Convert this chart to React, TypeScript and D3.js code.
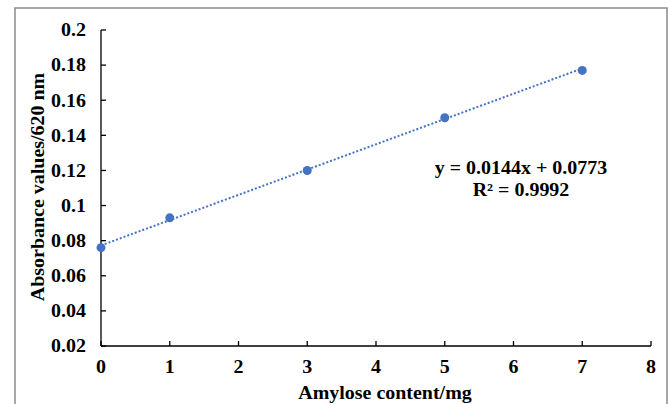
import React from "react";
import * as d3 from "d3";

const xValues = [0, 1, 3, 5, 7];
const yValues = [0.076, 0.093, 0.12, 0.15, 0.177];
const xTicks = [0, 1, 2, 3, 4, 5, 6, 7, 8];
const yTicks = [0.02, 0.04, 0.06, 0.08, 0.1, 0.12, 0.14, 0.16, 0.18, 0.2];
const slope = 0.0144;
const intercept = 0.0773;
const eqLine1 = "y = 0.0144x + 0.0773";
const eqLine2 = "R² = 0.9992";
const xTitle = "Amylose content/mg";
const yTitle = "Absorbance values/620 nm";

const W = 669;
const H = 404;
const left = 101;
const right = 651;
const top = 30;
const bottom = 346;
const font = "'Liberation Serif', 'Times New Roman', serif";
const blue = "#4472C4";
const SX = 1.11;

function T({
  x,
  y,
  anchor,
  rotate = 0,
  size = 18,
  children,
}: {
  x: number;
  y: number;
  anchor: "start" | "middle" | "end";
  rotate?: number;
  size?: number;
  children: React.ReactNode;
}) {
  return (
    <text
      transform={`translate(${x},${y}) rotate(${rotate}) scale(${SX},1)`}
      dy="0.35em"
      textAnchor={anchor}
      fontFamily={font}
      fontWeight="bold"
      fontSize={size}
      fill="#000"
    >
      {children}
    </text>
  );
}

export default function App() {
  const x = d3.scaleLinear().domain([0, 8]).range([left, right]);
  const y = d3.scaleLinear().domain([0.02, 0.2]).range([bottom, top]);
  const fmt = (v: number) => String(+v.toFixed(2));
  const trend = d3
    .line<number>()
    .x((d) => x(d))
    .y((d) => y(slope * d + intercept));

  return (
    <svg
      width={W}
      height={H}
      style={{ position: "absolute", left: 0, top: 0, background: "#fff" }}
    >
      <rect x={15} y={8} width={652} height={420} fill="#fff" stroke="#8a8a8a" strokeWidth={1.5} />
      <line x1={left} x2={left} y1={top} y2={bottom} stroke="#000" strokeWidth={1.3} />
      <line x1={left} x2={right} y1={bottom} y2={bottom} stroke="#000" strokeWidth={1.3} />
      {yTicks.map((t) => (
        <g key={"y" + t}>
          <line x1={left} x2={left + 5} y1={y(t)} y2={y(t)} stroke="#000" strokeWidth={1.3} />
          <T x={86} y={y(t)} anchor="end">
            {fmt(t)}
          </T>
        </g>
      ))}
      {xTicks.map((t) => (
        <g key={"x" + t}>
          <line x1={x(t)} x2={x(t)} y1={bottom} y2={bottom - 5} stroke="#000" strokeWidth={1.3} />
          <T x={x(t)} y={367} anchor="middle">
            {t}
          </T>
        </g>
      ))}
      <path
        d={trend([0, 7]) || ""}
        fill="none"
        stroke={blue}
        strokeWidth={2}
        strokeDasharray="2,2"
      />
      {xValues.map((v, i) => (
        <circle key={i} cx={x(v)} cy={y(yValues[i])} r={4.5} fill={blue} />
      ))}
      <T x={521} y={168} anchor="middle">
        {eqLine1}
      </T>
      <T x={521} y={190} anchor="middle">
        {eqLine2}
      </T>
      <T x={385} y={393} anchor="middle">
        {xTitle}
      </T>
      <T x={38} y={187} anchor="middle" rotate={-90}>
        {yTitle}
      </T>
    </svg>
  );
}
